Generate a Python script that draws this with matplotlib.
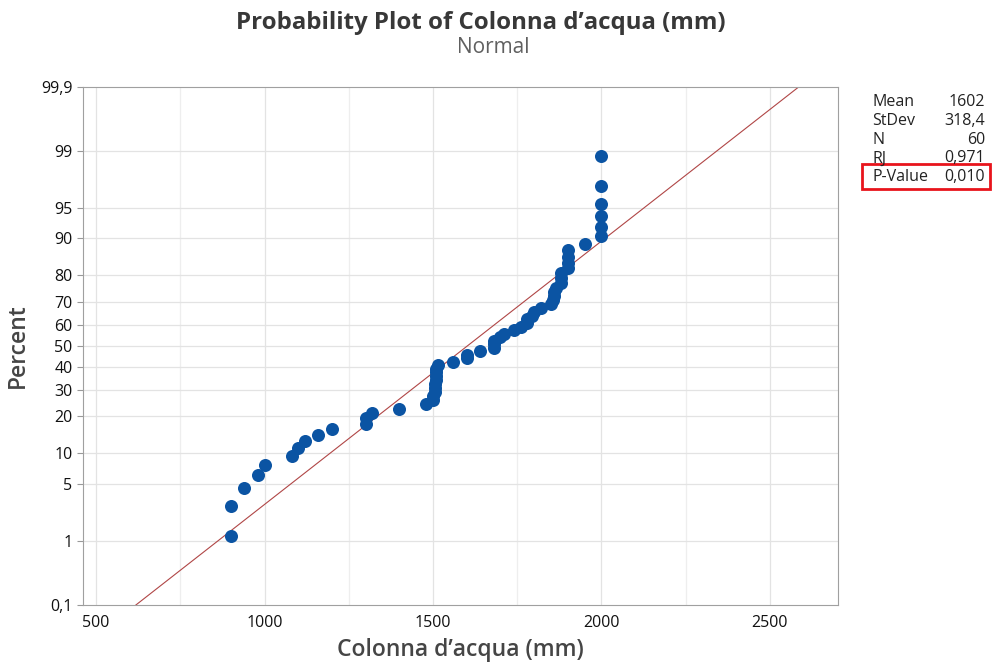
import matplotlib
matplotlib.use('Agg')
import matplotlib.pyplot as plt
from matplotlib.patches import Rectangle
from statistics import NormalDist
import numpy as np

plt.rcParams['font.family'] = ['Open Sans', 'DejaVu Sans']

values = [900, 900, 940, 980, 1000, 1080, 1100, 1120, 1160, 1200,
          1300, 1300, 1320, 1400, 1480, 1500, 1500, 1505, 1505, 1505,
          1510, 1510, 1510, 1510, 1515, 1560, 1600, 1600, 1640, 1680,
          1680, 1680, 1700, 1710, 1740, 1760, 1780, 1780, 1795, 1800,
          1820, 1850, 1855, 1860, 1860, 1865, 1880, 1880, 1880, 1900,
          1900, 1900, 1900, 1950, 2000, 2000, 2000, 2000, 2000, 2000]
mean_val = 1602
stdev_val = 318.4
stat_names = ['Mean', 'StDev', 'N', 'RJ', 'P-Value']
stat_texts = ['1602', '318,4', '60', '0,971', '0,010']
pct_ticks = [0.1, 1, 5, 10, 20, 30, 40, 50, 60, 70, 80, 90, 95, 99, 99.9]
pct_labels = ['0,1', '1', '5', '10', '20', '30', '40', '50', '60', '70', '80', '90', '95', '99', '99,9']
x_ticks = [500, 1000, 1500, 2000, 2500]

nd = NormalDist()
z = lambda p: nd.inv_cdf(p / 100.0)

n = len(values)
# median ranks (Benard), as Minitab does
pct = [(i + 1 - 0.3) / (n + 0.4) * 100 for i in range(n)]
yz = [z(p) for p in pct]

fig = plt.figure(figsize=(9.96, 6.66), dpi=100)
ax = fig.add_axes([0.0833, 0.0916, 0.758, 0.778])

ax.set_xlim(461, 2702)
ax.set_ylim(z(0.1), z(99.9))

# grid
for xv in np.arange(500, 2701, 250):
    ax.axvline(xv, color='#eeeeee' if xv % 500 else '#e3e3e3', lw=0.9, zorder=0)
for p in pct_ticks[1:-1]:
    ax.axhline(z(p), color='#e3e3e3', lw=0.9, zorder=0)

# fitted line
lz = np.array([z(0.1), z(99.9)])
ax.plot(mean_val + stdev_val * lz, lz, color='#b04646', lw=0.8, zorder=2)

ax.scatter(values, yz, s=88, color='#0b54a3', zorder=3, linewidths=0)

ax.set_yticks([z(p) for p in pct_ticks])
ax.set_yticklabels(pct_labels)
ax.set_xticks(x_ticks)
ax.tick_params(axis='y', length=4, color='#999999', labelsize=11.5, labelcolor='#111111')
ax.tick_params(axis='x', length=0, labelsize=11.5, labelcolor='#111111', pad=7)
for s in ax.spines.values():
    s.set_color('#a0a0a0')

ax.set_xlabel('Colonna d\u2019acqua (mm)', fontsize=16.5, color='#454545', labelpad=5,
              fontweight='semibold')
ax.set_ylabel('Percent', fontsize=16.5, color='#454545', labelpad=8, fontweight='semibold')

fig.text(0.483, 0.965, 'Probability Plot of Colonna d\u2019acqua (mm)', ha='center', va='center',
         fontsize=17.3, fontweight='bold', color='#383838')
fig.text(0.495, 0.928, 'Normal', ha='center', va='center', fontsize=15, color='#606060')

# summary table
y0 = 102
for k, (nm, tx) in enumerate(zip(stat_names, stat_texts)):
    yy = 1 - (y0 + 18.8 * k) / 666
    fig.text(872 / 996, yy, nm, ha='left', va='center', fontsize=11.5, color='#222222')
    fig.text(985 / 996, yy, tx, ha='right', va='center', fontsize=11.5, color='#222222')
fig.patches.append(Rectangle((862 / 996, 1 - 189 / 666), 128 / 996, 25 / 666,
                             transform=fig.transFigure, fill=False, ec='#e8141c', lw=2))

fig.savefig('out.png', dpi=100)
